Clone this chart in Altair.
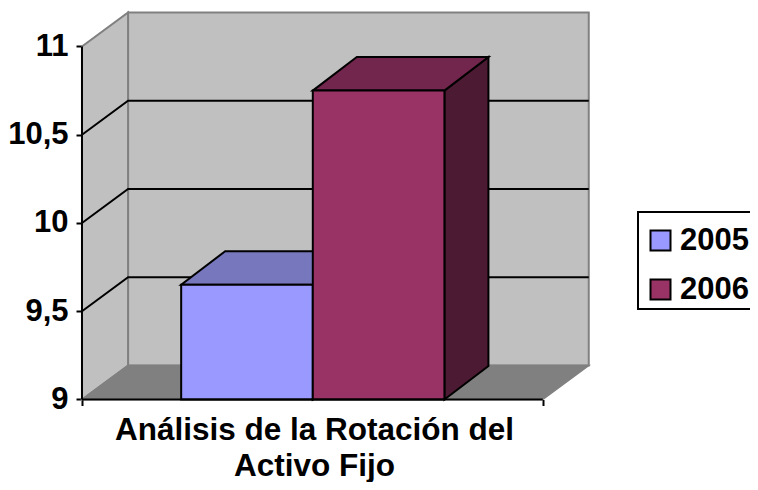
import altair as alt
import pandas as pd

years = ["2005", "2006"]
values = [9.65, 10.75]
ticks = [9, 9.5, 10, 10.5, 11]
grid_values = [9.5, 10, 10.5]
title_lines = ["Análisis de la Rotación del", "Activo Fijo"]
front_colors = ["#9999FF", "#993366"]
top_colors = ["#7777BE", "#73264D"]
side_colors = ["#4D1A33", "#4D1A33"]

BASE = 9.0
TOP = 11.0
DX = 0.1      # wall depth along the category axis
DY = 0.1926   # wall depth along the value axis
BAR_DX = 0.0955
BAR_DY = 0.19
BAR_W = 1 / 3.5
GAP = 0.75 * BAR_W + 0.001

W, H = 742, 474
xs = alt.Scale(domain=[-0.1606, 1.45], nice=False, zero=False)
ys = alt.Scale(domain=[8.5326, 11.218], nice=False, zero=False)
FONT = "Liberation Sans"
FS = 31

noaxis = dict(axis=None, scale=xs)
noaxy = dict(axis=None, scale=ys)

# walls
back = pd.DataFrame([dict(x=DX, x2=1 + DX, y=BASE + DY, y2=TOP + DY)])
back_l = alt.Chart(back).mark_rect(fill="#C0C0C0", stroke="#808080", strokeWidth=2).encode(
    x=alt.X("x:Q", scale=xs, title=title_lines,
            axis=alt.Axis(values=[0, 1], labels=False, grid=False, domain=False, offset=-82.5,
                          tickSize=6, tickColor="black", tickWidth=2,
                          titleFont=FONT, titleFontSize=31.5, titleFontWeight="bold", titleColor="black",
                          titleLineHeight=36, titleX=306, titleY=39.5, titleBaseline="alphabetic")),
    x2="x2:Q",
    y=alt.Y("y:Q", scale=ys, title=None,
            axis=alt.Axis(values=ticks, grid=False, domain=False, offset=-74,
                          tickSize=6, tickColor="black", tickWidth=2, labelPadding=8,
                          labelFont=FONT, labelFontSize=FS, labelFontWeight="bold", labelColor="black",
                          labelExpr="replace(datum.value + '', '.', ',')")),
    y2="y2:Q",
)

left = pd.DataFrame([dict(x=0, y=BASE, y2=TOP), dict(x=DX, y=BASE + DY, y2=TOP + DY)])
left_l = alt.Chart(left).mark_area(fill="#C0C0C0", stroke="#808080", strokeWidth=2, orient="vertical").encode(
    x=alt.X("x:Q", **noaxis), y=alt.Y("y:Q", **noaxy), y2="y2:Q")

floor = pd.DataFrame([dict(y=BASE, x=0, x2=1), dict(y=BASE + DY, x=DX, x2=1 + DX)])
floor_l = alt.Chart(floor).mark_area(fill="#808080", stroke="#808080", strokeWidth=1.5, orient="horizontal").encode(
    y=alt.Y("y:Q", **noaxy), x=alt.X("x:Q", **noaxis), x2="x2:Q")

grid_rows = []
for v in grid_values:
    grid_rows += [dict(v=v, x=0, y=v), dict(v=v, x=DX, y=v + DY), dict(v=v, x=1 + DX, y=v + DY)]
grid_l = alt.Chart(pd.DataFrame(grid_rows)).mark_line(color="black", strokeWidth=2).encode(
    x=alt.X("x:Q", **noaxis), y=alt.Y("y:Q", **noaxy), detail="v:N")

# axis lines on the front plane
axis_y = alt.Chart(pd.DataFrame([dict(x=0, y=BASE, y2=TOP)])).mark_rule(color="black", strokeWidth=2).encode(
    x=alt.X("x:Q", **noaxis), y=alt.Y("y:Q", **noaxy), y2="y2:Q")
axis_x = alt.Chart(pd.DataFrame([dict(y=BASE, x=0, x2=1)])).mark_rule(color="black", strokeWidth=2).encode(
    y=alt.Y("y:Q", **noaxy), x=alt.X("x:Q", **noaxis), x2="x2:Q")

# bars
layers = []
for i, (yr, v) in enumerate(zip(years, values)):
    a = GAP + i * BAR_W
    b = a + BAR_W
    top = pd.DataFrame([dict(y=v, x=a, x2=b), dict(y=v + BAR_DY, x=a + BAR_DX, x2=b + BAR_DX)])
    side = pd.DataFrame([dict(x=b, y=BASE, y2=v), dict(x=b + BAR_DX, y=BASE + BAR_DY, y2=v + BAR_DY)])
    layers.append(alt.Chart(side).mark_area(fill=side_colors[i], stroke="black", strokeWidth=2, orient="vertical").encode(
        x=alt.X("x:Q", **noaxis), y=alt.Y("y:Q", **noaxy), y2="y2:Q"))
    layers.append(alt.Chart(top).mark_area(fill=top_colors[i], stroke="black", strokeWidth=2, orient="horizontal").encode(
        y=alt.Y("y:Q", **noaxy), x=alt.X("x:Q", **noaxis), x2="x2:Q"))

front = pd.DataFrame([
    dict(year=yr, x=GAP + i * BAR_W, x2=GAP + (i + 1) * BAR_W, y=BASE, y2=v)
    for i, (yr, v) in enumerate(zip(years, values))
])
front_l = alt.Chart(front).mark_rect(stroke="black", strokeWidth=2).encode(
    x=alt.X("x:Q", **noaxis), x2="x2:Q",
    y=alt.Y("y:Q", **noaxy), y2="y2:Q",
    fill=alt.Fill("year:N", scale=alt.Scale(domain=years, range=front_colors),
                  legend=alt.Legend(title=None, orient="none", legendX=637, legendY=217, padding=0,
                                    symbolType="square", symbolSize=400, symbolStrokeColor="black",
                                    symbolStrokeWidth=2, rowPadding=17, labelOffset=4,
                                    labelFont=FONT, labelFontSize=FS, labelFontWeight="bold",
                                    labelColor="black")),
)

frame = alt.Chart(pd.DataFrame([dict(k=1)])).mark_rect(fillOpacity=0, stroke="black", strokeWidth=2).encode(
    x=alt.value(630), x2=alt.value(790), y=alt.value(204), y2=alt.value(301))

chart = alt.layer(
    back_l, left_l, floor_l, grid_l, *layers, front_l, axis_y, axis_x, frame
).resolve_axis(x="independent", y="independent").properties(
    width=W, height=H, padding=0, autosize=alt.AutoSizeParams(type="none")
).configure_view(stroke=None)

chart.save("out.html", embed_options={"renderer": "svg", "actions": False})
